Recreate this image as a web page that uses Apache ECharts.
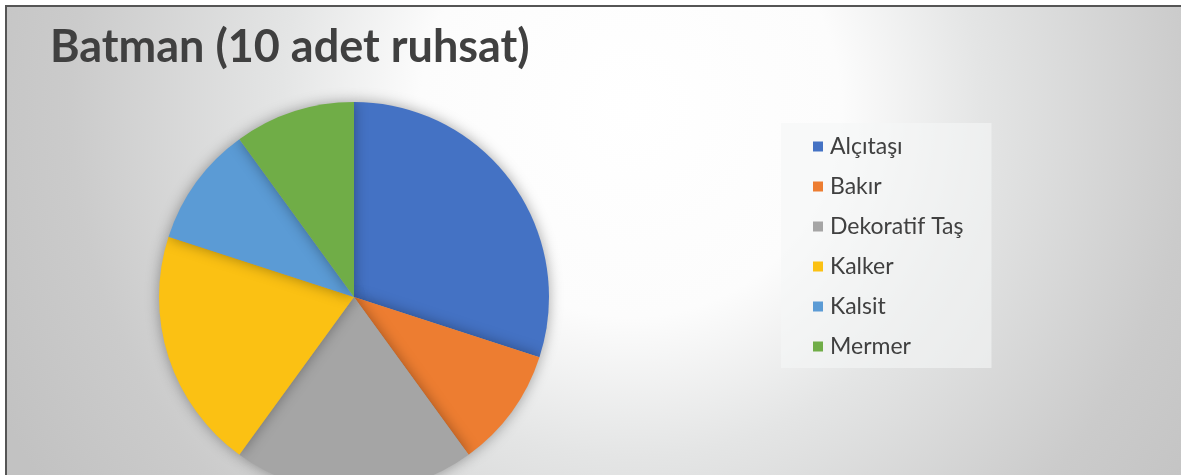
<!DOCTYPE html>
<html>
<head>
<meta charset="utf-8">
<script src="https://cdn.jsdelivr.net/npm/echarts@6/dist/echarts.min.js"></script>
<style>
  html, body { margin: 0; padding: 0; background: #fff; overflow: hidden; }
  #chart {
    position: absolute; left: 5px; top: 5px;
    width: 1200px; height: 500px;
    border-left: 2px solid #555; border-top: 2px solid #555;
  }
</style>
</head>
<body>
<div id="chart"></div>
<script>
// ruhsat sayilari (toplam 10)
const categories = ['Alçıtaşı', 'Bakır', 'Dekoratif Taş', 'Kalker', 'Kalsit', 'Mermer'];
const counts = [3, 1, 2, 2, 1, 1];
const colors = ['#4472c4', '#ed7d31', '#a5a5a5', '#fbc113', '#5b9bd5', '#70ad47'];

const chart = echarts.init(document.getElementById('chart'));
const font = 'Lato, "Noto Sans", sans-serif';

chart.setOption({
  backgroundColor: {
    type: 'radial', x: 0.52, y: 0.2, r: 1.4,
    colorStops: [
      { offset: 0, color: '#ffffff' },
      { offset: 0.3, color: '#fcfcfc' },
      { offset: 0.5, color: '#e4e5e5' },
      { offset: 0.8, color: '#cbcbcb' },
      { offset: 1, color: '#c2c2c2' }
    ]
  },
  color: colors,
  title: {
    text: 'Batman (10 adet ruhsat)',
    left: 38, top: 13,
    textStyle: { fontFamily: font, fontWeight: 'bold', fontSize: 45, color: '#404040' }
  },
  legend: {
    orient: 'vertical',
    left: 774, top: 116,
    backgroundColor: 'rgba(245,246,247,0.6)',
    padding: [12, 28, 10, 32],
    icon: 'rect',
    itemWidth: 10, itemHeight: 10,
    itemGap: 17,
    data: categories,
    textStyle: { fontFamily: font, fontSize: 23, color: '#404040', lineHeight: 20, padding: [0, 0, 0, 2] }
  },
  series: [{
    type: 'pie',
    center: [347, 290],
    radius: 195,
    startAngle: 90,
    clockwise: true,
    label: { show: false },
    labelLine: { show: false },
    silent: true,
    itemStyle: { shadowBlur: 14, shadowColor: 'rgba(0,0,0,0.35)' },
    data: categories.map((name, i) => ({ name, value: counts[i] }))
  }]
});
</script>
</body>
</html>
